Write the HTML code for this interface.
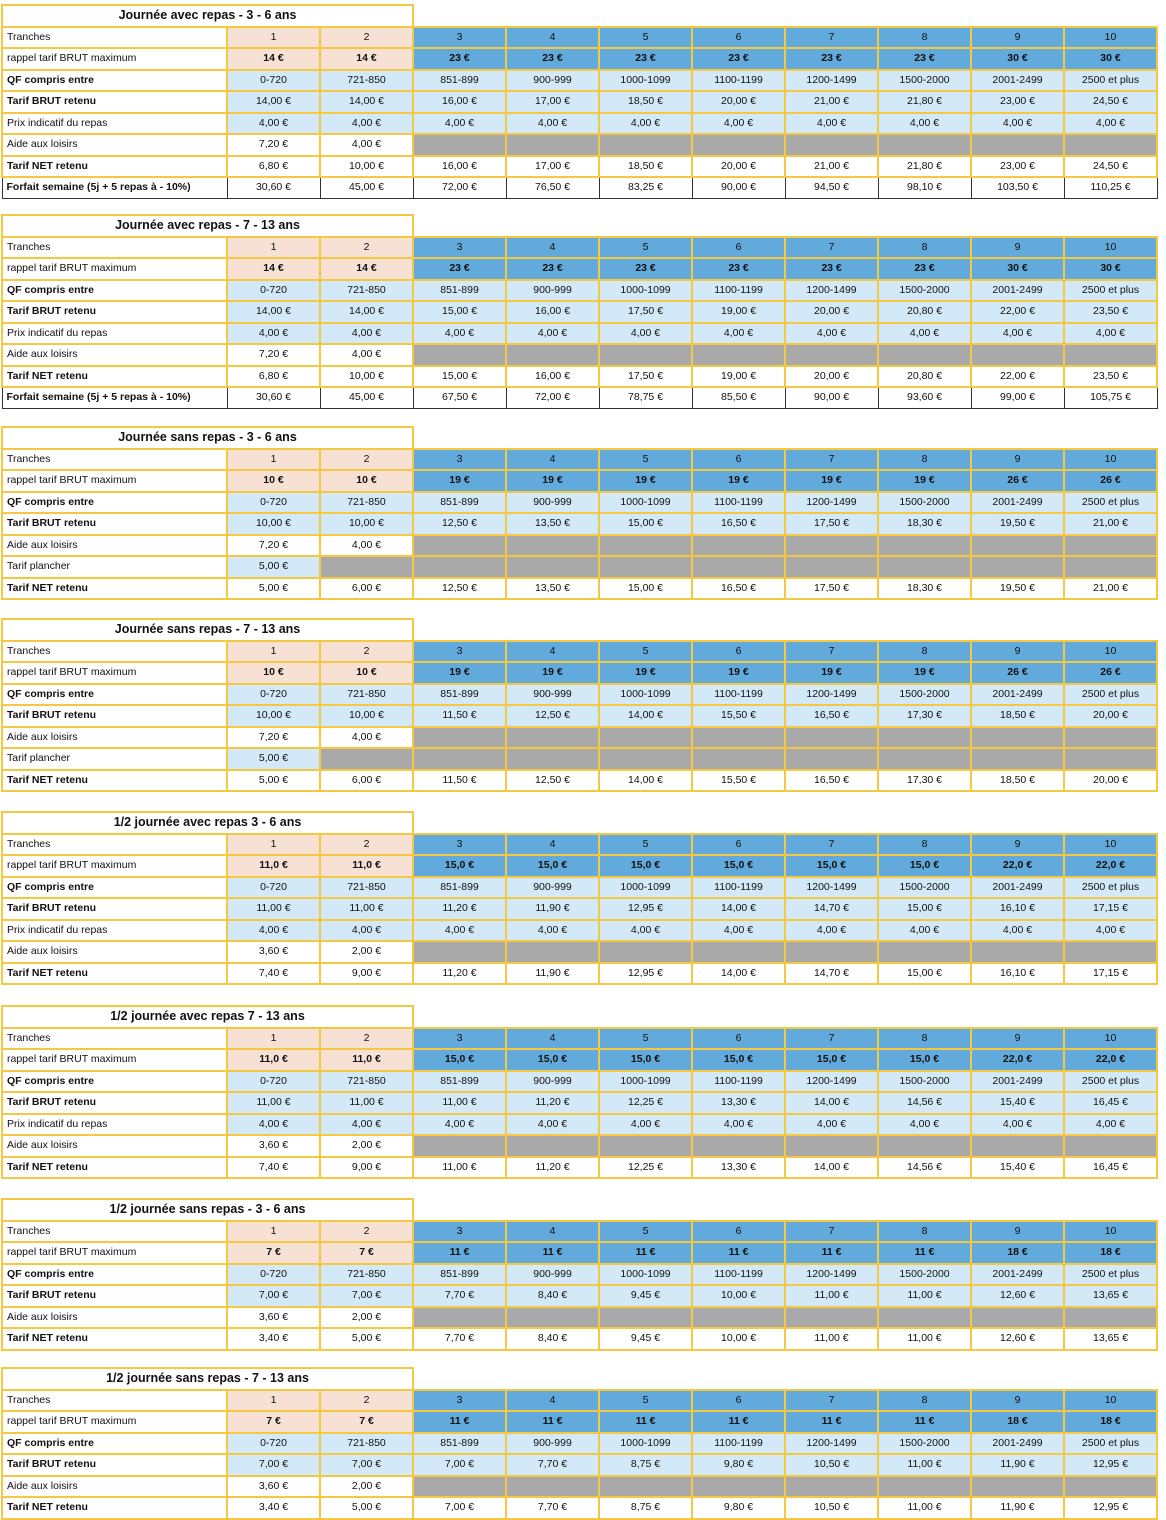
<!DOCTYPE html>
<html><head><meta charset="utf-8">
<style>
body{margin:0;width:1166px;height:1520px;background:#fff;position:relative;font-family:"Liberation Sans",sans-serif;font-size:10.5px;color:#111;overflow:hidden}
table{position:absolute;left:1px;border-collapse:collapse;table-layout:fixed;width:1155px}
td{border:2px solid #f5c842;height:19.5px;padding:0;text-align:center;white-space:nowrap;overflow:hidden;line-height:19px}
td.lb{text-align:left;padding-left:4px}
.p{background:#f7e0d4}.b{background:#63aadc}.l{background:#d3e9f7}.g{background:#a9a9a9}
.bd td{font-weight:bold}
tr.tt td.t{font-weight:bold;font-size:12.5px;border-bottom:2px solid #f5c842}
tr.tt td.n{border:none;border-bottom:2px solid #f5c842}
tr.fo td{border:1px solid #333;font-weight:normal}
tr.fo td.lb{font-weight:bold}
</style></head><body>

<table style="top:4px"><colgroup><col style="width:225px"><col span="10" style="width:93px"></colgroup>
<tr class="tt"><td class="t" colspan="3">Journée avec repas - 3 - 6 ans</td><td class="n" colspan="8"></td></tr>
<tr><td class="lb">Tranches</td><td class="p">1</td><td class="p">2</td><td class="b">3</td><td class="b">4</td><td class="b">5</td><td class="b">6</td><td class="b">7</td><td class="b">8</td><td class="b">9</td><td class="b">10</td></tr>
<tr class="bd"><td class="lb" style="font-weight:normal">rappel tarif BRUT maximum</td><td class="p">14 €</td><td class="p">14 €</td><td class="b">23 €</td><td class="b">23 €</td><td class="b">23 €</td><td class="b">23 €</td><td class="b">23 €</td><td class="b">23 €</td><td class="b">30 €</td><td class="b">30 €</td></tr>
<tr><td class="lb"><b>QF compris entre</b></td><td class="l">0-720</td><td class="l">721-850</td><td class="l">851-899</td><td class="l">900-999</td><td class="l">1000-1099</td><td class="l">1100-1199</td><td class="l">1200-1499</td><td class="l">1500-2000</td><td class="l">2001-2499</td><td class="l">2500 et plus</td></tr>
<tr><td class="lb"><b>Tarif BRUT retenu</b></td><td class="l">14,00 €</td><td class="l">14,00 €</td><td class="l">16,00 €</td><td class="l">17,00 €</td><td class="l">18,50 €</td><td class="l">20,00 €</td><td class="l">21,00 €</td><td class="l">21,80 €</td><td class="l">23,00 €</td><td class="l">24,50 €</td></tr>
<tr><td class="lb">Prix indicatif du repas</td><td class="l">4,00 €</td><td class="l">4,00 €</td><td class="l">4,00 €</td><td class="l">4,00 €</td><td class="l">4,00 €</td><td class="l">4,00 €</td><td class="l">4,00 €</td><td class="l">4,00 €</td><td class="l">4,00 €</td><td class="l">4,00 €</td></tr>
<tr><td class="lb">Aide aux loisirs</td><td>7,20 €</td><td>4,00 €</td><td class="g"></td><td class="g"></td><td class="g"></td><td class="g"></td><td class="g"></td><td class="g"></td><td class="g"></td><td class="g"></td></tr>
<tr><td class="lb"><b>Tarif NET retenu</b></td><td>6,80 €</td><td>10,00 €</td><td>16,00 €</td><td>17,00 €</td><td>18,50 €</td><td>20,00 €</td><td>21,00 €</td><td>21,80 €</td><td>23,00 €</td><td>24,50 €</td></tr>
<tr class="fo"><td class="lb">Forfait semaine (5j + 5 repas à - 10%)</td><td>30,60 €</td><td>45,00 €</td><td>72,00 €</td><td>76,50 €</td><td>83,25 €</td><td>90,00 €</td><td>94,50 €</td><td>98,10 €</td><td>103,50 €</td><td>110,25 €</td></tr>
</table>

<table style="top:214px"><colgroup><col style="width:225px"><col span="10" style="width:93px"></colgroup>
<tr class="tt"><td class="t" colspan="3">Journée avec repas - 7 - 13 ans</td><td class="n" colspan="8"></td></tr>
<tr><td class="lb">Tranches</td><td class="p">1</td><td class="p">2</td><td class="b">3</td><td class="b">4</td><td class="b">5</td><td class="b">6</td><td class="b">7</td><td class="b">8</td><td class="b">9</td><td class="b">10</td></tr>
<tr class="bd"><td class="lb" style="font-weight:normal">rappel tarif BRUT maximum</td><td class="p">14 €</td><td class="p">14 €</td><td class="b">23 €</td><td class="b">23 €</td><td class="b">23 €</td><td class="b">23 €</td><td class="b">23 €</td><td class="b">23 €</td><td class="b">30 €</td><td class="b">30 €</td></tr>
<tr><td class="lb"><b>QF compris entre</b></td><td class="l">0-720</td><td class="l">721-850</td><td class="l">851-899</td><td class="l">900-999</td><td class="l">1000-1099</td><td class="l">1100-1199</td><td class="l">1200-1499</td><td class="l">1500-2000</td><td class="l">2001-2499</td><td class="l">2500 et plus</td></tr>
<tr><td class="lb"><b>Tarif BRUT retenu</b></td><td class="l">14,00 €</td><td class="l">14,00 €</td><td class="l">15,00 €</td><td class="l">16,00 €</td><td class="l">17,50 €</td><td class="l">19,00 €</td><td class="l">20,00 €</td><td class="l">20,80 €</td><td class="l">22,00 €</td><td class="l">23,50 €</td></tr>
<tr><td class="lb">Prix indicatif du repas</td><td class="l">4,00 €</td><td class="l">4,00 €</td><td class="l">4,00 €</td><td class="l">4,00 €</td><td class="l">4,00 €</td><td class="l">4,00 €</td><td class="l">4,00 €</td><td class="l">4,00 €</td><td class="l">4,00 €</td><td class="l">4,00 €</td></tr>
<tr><td class="lb">Aide aux loisirs</td><td>7,20 €</td><td>4,00 €</td><td class="g"></td><td class="g"></td><td class="g"></td><td class="g"></td><td class="g"></td><td class="g"></td><td class="g"></td><td class="g"></td></tr>
<tr><td class="lb"><b>Tarif NET retenu</b></td><td>6,80 €</td><td>10,00 €</td><td>15,00 €</td><td>16,00 €</td><td>17,50 €</td><td>19,00 €</td><td>20,00 €</td><td>20,80 €</td><td>22,00 €</td><td>23,50 €</td></tr>
<tr class="fo"><td class="lb">Forfait semaine (5j + 5 repas à - 10%)</td><td>30,60 €</td><td>45,00 €</td><td>67,50 €</td><td>72,00 €</td><td>78,75 €</td><td>85,50 €</td><td>90,00 €</td><td>93,60 €</td><td>99,00 €</td><td>105,75 €</td></tr>
</table>

<table style="top:426px"><colgroup><col style="width:225px"><col span="10" style="width:93px"></colgroup>
<tr class="tt"><td class="t" colspan="3">Journée sans repas - 3 - 6 ans</td><td class="n" colspan="8"></td></tr>
<tr><td class="lb">Tranches</td><td class="p">1</td><td class="p">2</td><td class="b">3</td><td class="b">4</td><td class="b">5</td><td class="b">6</td><td class="b">7</td><td class="b">8</td><td class="b">9</td><td class="b">10</td></tr>
<tr class="bd"><td class="lb" style="font-weight:normal">rappel tarif BRUT maximum</td><td class="p">10 €</td><td class="p">10 €</td><td class="b">19 €</td><td class="b">19 €</td><td class="b">19 €</td><td class="b">19 €</td><td class="b">19 €</td><td class="b">19 €</td><td class="b">26 €</td><td class="b">26 €</td></tr>
<tr><td class="lb"><b>QF compris entre</b></td><td class="l">0-720</td><td class="l">721-850</td><td class="l">851-899</td><td class="l">900-999</td><td class="l">1000-1099</td><td class="l">1100-1199</td><td class="l">1200-1499</td><td class="l">1500-2000</td><td class="l">2001-2499</td><td class="l">2500 et plus</td></tr>
<tr><td class="lb"><b>Tarif BRUT retenu</b></td><td class="l">10,00 €</td><td class="l">10,00 €</td><td class="l">12,50 €</td><td class="l">13,50 €</td><td class="l">15,00 €</td><td class="l">16,50 €</td><td class="l">17,50 €</td><td class="l">18,30 €</td><td class="l">19,50 €</td><td class="l">21,00 €</td></tr>
<tr><td class="lb">Aide aux loisirs</td><td>7,20 €</td><td>4,00 €</td><td class="g"></td><td class="g"></td><td class="g"></td><td class="g"></td><td class="g"></td><td class="g"></td><td class="g"></td><td class="g"></td></tr>
<tr><td class="lb">Tarif plancher</td><td class="l">5,00 €</td><td class="g"></td><td class="g"></td><td class="g"></td><td class="g"></td><td class="g"></td><td class="g"></td><td class="g"></td><td class="g"></td><td class="g"></td></tr>
<tr><td class="lb"><b>Tarif NET retenu</b></td><td>5,00 €</td><td>6,00 €</td><td>12,50 €</td><td>13,50 €</td><td>15,00 €</td><td>16,50 €</td><td>17,50 €</td><td>18,30 €</td><td>19,50 €</td><td>21,00 €</td></tr>
</table>

<table style="top:618px"><colgroup><col style="width:225px"><col span="10" style="width:93px"></colgroup>
<tr class="tt"><td class="t" colspan="3">Journée sans repas - 7 - 13 ans</td><td class="n" colspan="8"></td></tr>
<tr><td class="lb">Tranches</td><td class="p">1</td><td class="p">2</td><td class="b">3</td><td class="b">4</td><td class="b">5</td><td class="b">6</td><td class="b">7</td><td class="b">8</td><td class="b">9</td><td class="b">10</td></tr>
<tr class="bd"><td class="lb" style="font-weight:normal">rappel tarif BRUT maximum</td><td class="p">10 €</td><td class="p">10 €</td><td class="b">19 €</td><td class="b">19 €</td><td class="b">19 €</td><td class="b">19 €</td><td class="b">19 €</td><td class="b">19 €</td><td class="b">26 €</td><td class="b">26 €</td></tr>
<tr><td class="lb"><b>QF compris entre</b></td><td class="l">0-720</td><td class="l">721-850</td><td class="l">851-899</td><td class="l">900-999</td><td class="l">1000-1099</td><td class="l">1100-1199</td><td class="l">1200-1499</td><td class="l">1500-2000</td><td class="l">2001-2499</td><td class="l">2500 et plus</td></tr>
<tr><td class="lb"><b>Tarif BRUT retenu</b></td><td class="l">10,00 €</td><td class="l">10,00 €</td><td class="l">11,50 €</td><td class="l">12,50 €</td><td class="l">14,00 €</td><td class="l">15,50 €</td><td class="l">16,50 €</td><td class="l">17,30 €</td><td class="l">18,50 €</td><td class="l">20,00 €</td></tr>
<tr><td class="lb">Aide aux loisirs</td><td>7,20 €</td><td>4,00 €</td><td class="g"></td><td class="g"></td><td class="g"></td><td class="g"></td><td class="g"></td><td class="g"></td><td class="g"></td><td class="g"></td></tr>
<tr><td class="lb">Tarif plancher</td><td class="l">5,00 €</td><td class="g"></td><td class="g"></td><td class="g"></td><td class="g"></td><td class="g"></td><td class="g"></td><td class="g"></td><td class="g"></td><td class="g"></td></tr>
<tr><td class="lb"><b>Tarif NET retenu</b></td><td>5,00 €</td><td>6,00 €</td><td>11,50 €</td><td>12,50 €</td><td>14,00 €</td><td>15,50 €</td><td>16,50 €</td><td>17,30 €</td><td>18,50 €</td><td>20,00 €</td></tr>
</table>

<table style="top:811px"><colgroup><col style="width:225px"><col span="10" style="width:93px"></colgroup>
<tr class="tt"><td class="t" colspan="3">1/2 journée avec repas 3 - 6 ans</td><td class="n" colspan="8"></td></tr>
<tr><td class="lb">Tranches</td><td class="p">1</td><td class="p">2</td><td class="b">3</td><td class="b">4</td><td class="b">5</td><td class="b">6</td><td class="b">7</td><td class="b">8</td><td class="b">9</td><td class="b">10</td></tr>
<tr class="bd"><td class="lb" style="font-weight:normal">rappel tarif BRUT maximum</td><td class="p">11,0 €</td><td class="p">11,0 €</td><td class="b">15,0 €</td><td class="b">15,0 €</td><td class="b">15,0 €</td><td class="b">15,0 €</td><td class="b">15,0 €</td><td class="b">15,0 €</td><td class="b">22,0 €</td><td class="b">22,0 €</td></tr>
<tr><td class="lb"><b>QF compris entre</b></td><td class="l">0-720</td><td class="l">721-850</td><td class="l">851-899</td><td class="l">900-999</td><td class="l">1000-1099</td><td class="l">1100-1199</td><td class="l">1200-1499</td><td class="l">1500-2000</td><td class="l">2001-2499</td><td class="l">2500 et plus</td></tr>
<tr><td class="lb"><b>Tarif BRUT retenu</b></td><td class="l">11,00 €</td><td class="l">11,00 €</td><td class="l">11,20 €</td><td class="l">11,90 €</td><td class="l">12,95 €</td><td class="l">14,00 €</td><td class="l">14,70 €</td><td class="l">15,00 €</td><td class="l">16,10 €</td><td class="l">17,15 €</td></tr>
<tr><td class="lb">Prix indicatif du repas</td><td class="l">4,00 €</td><td class="l">4,00 €</td><td class="l">4,00 €</td><td class="l">4,00 €</td><td class="l">4,00 €</td><td class="l">4,00 €</td><td class="l">4,00 €</td><td class="l">4,00 €</td><td class="l">4,00 €</td><td class="l">4,00 €</td></tr>
<tr><td class="lb">Aide aux loisirs</td><td>3,60 €</td><td>2,00 €</td><td class="g"></td><td class="g"></td><td class="g"></td><td class="g"></td><td class="g"></td><td class="g"></td><td class="g"></td><td class="g"></td></tr>
<tr><td class="lb"><b>Tarif NET retenu</b></td><td>7,40 €</td><td>9,00 €</td><td>11,20 €</td><td>11,90 €</td><td>12,95 €</td><td>14,00 €</td><td>14,70 €</td><td>15,00 €</td><td>16,10 €</td><td>17,15 €</td></tr>
</table>

<table style="top:1005px"><colgroup><col style="width:225px"><col span="10" style="width:93px"></colgroup>
<tr class="tt"><td class="t" colspan="3">1/2 journée avec repas 7 - 13 ans</td><td class="n" colspan="8"></td></tr>
<tr><td class="lb">Tranches</td><td class="p">1</td><td class="p">2</td><td class="b">3</td><td class="b">4</td><td class="b">5</td><td class="b">6</td><td class="b">7</td><td class="b">8</td><td class="b">9</td><td class="b">10</td></tr>
<tr class="bd"><td class="lb" style="font-weight:normal">rappel tarif BRUT maximum</td><td class="p">11,0 €</td><td class="p">11,0 €</td><td class="b">15,0 €</td><td class="b">15,0 €</td><td class="b">15,0 €</td><td class="b">15,0 €</td><td class="b">15,0 €</td><td class="b">15,0 €</td><td class="b">22,0 €</td><td class="b">22,0 €</td></tr>
<tr><td class="lb"><b>QF compris entre</b></td><td class="l">0-720</td><td class="l">721-850</td><td class="l">851-899</td><td class="l">900-999</td><td class="l">1000-1099</td><td class="l">1100-1199</td><td class="l">1200-1499</td><td class="l">1500-2000</td><td class="l">2001-2499</td><td class="l">2500 et plus</td></tr>
<tr><td class="lb"><b>Tarif BRUT retenu</b></td><td class="l">11,00 €</td><td class="l">11,00 €</td><td class="l">11,00 €</td><td class="l">11,20 €</td><td class="l">12,25 €</td><td class="l">13,30 €</td><td class="l">14,00 €</td><td class="l">14,56 €</td><td class="l">15,40 €</td><td class="l">16,45 €</td></tr>
<tr><td class="lb">Prix indicatif du repas</td><td class="l">4,00 €</td><td class="l">4,00 €</td><td class="l">4,00 €</td><td class="l">4,00 €</td><td class="l">4,00 €</td><td class="l">4,00 €</td><td class="l">4,00 €</td><td class="l">4,00 €</td><td class="l">4,00 €</td><td class="l">4,00 €</td></tr>
<tr><td class="lb">Aide aux loisirs</td><td>3,60 €</td><td>2,00 €</td><td class="g"></td><td class="g"></td><td class="g"></td><td class="g"></td><td class="g"></td><td class="g"></td><td class="g"></td><td class="g"></td></tr>
<tr><td class="lb"><b>Tarif NET retenu</b></td><td>7,40 €</td><td>9,00 €</td><td>11,00 €</td><td>11,20 €</td><td>12,25 €</td><td>13,30 €</td><td>14,00 €</td><td>14,56 €</td><td>15,40 €</td><td>16,45 €</td></tr>
</table>

<table style="top:1198px"><colgroup><col style="width:225px"><col span="10" style="width:93px"></colgroup>
<tr class="tt"><td class="t" colspan="3">1/2 journée sans repas - 3 - 6 ans</td><td class="n" colspan="8"></td></tr>
<tr><td class="lb">Tranches</td><td class="p">1</td><td class="p">2</td><td class="b">3</td><td class="b">4</td><td class="b">5</td><td class="b">6</td><td class="b">7</td><td class="b">8</td><td class="b">9</td><td class="b">10</td></tr>
<tr class="bd"><td class="lb" style="font-weight:normal">rappel tarif BRUT maximum</td><td class="p">7 €</td><td class="p">7 €</td><td class="b">11 €</td><td class="b">11 €</td><td class="b">11 €</td><td class="b">11 €</td><td class="b">11 €</td><td class="b">11 €</td><td class="b">18 €</td><td class="b">18 €</td></tr>
<tr><td class="lb"><b>QF compris entre</b></td><td class="l">0-720</td><td class="l">721-850</td><td class="l">851-899</td><td class="l">900-999</td><td class="l">1000-1099</td><td class="l">1100-1199</td><td class="l">1200-1499</td><td class="l">1500-2000</td><td class="l">2001-2499</td><td class="l">2500 et plus</td></tr>
<tr><td class="lb"><b>Tarif BRUT retenu</b></td><td class="l">7,00 €</td><td class="l">7,00 €</td><td class="l">7,70 €</td><td class="l">8,40 €</td><td class="l">9,45 €</td><td class="l">10,00 €</td><td class="l">11,00 €</td><td class="l">11,00 €</td><td class="l">12,60 €</td><td class="l">13,65 €</td></tr>
<tr><td class="lb">Aide aux loisirs</td><td>3,60 €</td><td>2,00 €</td><td class="g"></td><td class="g"></td><td class="g"></td><td class="g"></td><td class="g"></td><td class="g"></td><td class="g"></td><td class="g"></td></tr>
<tr><td class="lb"><b>Tarif NET retenu</b></td><td>3,40 €</td><td>5,00 €</td><td>7,70 €</td><td>8,40 €</td><td>9,45 €</td><td>10,00 €</td><td>11,00 €</td><td>11,00 €</td><td>12,60 €</td><td>13,65 €</td></tr>
</table>

<table style="top:1367px"><colgroup><col style="width:225px"><col span="10" style="width:93px"></colgroup>
<tr class="tt"><td class="t" colspan="3">1/2 journée sans repas - 7 - 13 ans</td><td class="n" colspan="8"></td></tr>
<tr><td class="lb">Tranches</td><td class="p">1</td><td class="p">2</td><td class="b">3</td><td class="b">4</td><td class="b">5</td><td class="b">6</td><td class="b">7</td><td class="b">8</td><td class="b">9</td><td class="b">10</td></tr>
<tr class="bd"><td class="lb" style="font-weight:normal">rappel tarif BRUT maximum</td><td class="p">7 €</td><td class="p">7 €</td><td class="b">11 €</td><td class="b">11 €</td><td class="b">11 €</td><td class="b">11 €</td><td class="b">11 €</td><td class="b">11 €</td><td class="b">18 €</td><td class="b">18 €</td></tr>
<tr><td class="lb"><b>QF compris entre</b></td><td class="l">0-720</td><td class="l">721-850</td><td class="l">851-899</td><td class="l">900-999</td><td class="l">1000-1099</td><td class="l">1100-1199</td><td class="l">1200-1499</td><td class="l">1500-2000</td><td class="l">2001-2499</td><td class="l">2500 et plus</td></tr>
<tr><td class="lb"><b>Tarif BRUT retenu</b></td><td class="l">7,00 €</td><td class="l">7,00 €</td><td class="l">7,00 €</td><td class="l">7,70 €</td><td class="l">8,75 €</td><td class="l">9,80 €</td><td class="l">10,50 €</td><td class="l">11,00 €</td><td class="l">11,90 €</td><td class="l">12,95 €</td></tr>
<tr><td class="lb">Aide aux loisirs</td><td>3,60 €</td><td>2,00 €</td><td class="g"></td><td class="g"></td><td class="g"></td><td class="g"></td><td class="g"></td><td class="g"></td><td class="g"></td><td class="g"></td></tr>
<tr><td class="lb"><b>Tarif NET retenu</b></td><td>3,40 €</td><td>5,00 €</td><td>7,00 €</td><td>7,70 €</td><td>8,75 €</td><td>9,80 €</td><td>10,50 €</td><td>11,00 €</td><td>11,90 €</td><td>12,95 €</td></tr>
</table>

</body></html>
